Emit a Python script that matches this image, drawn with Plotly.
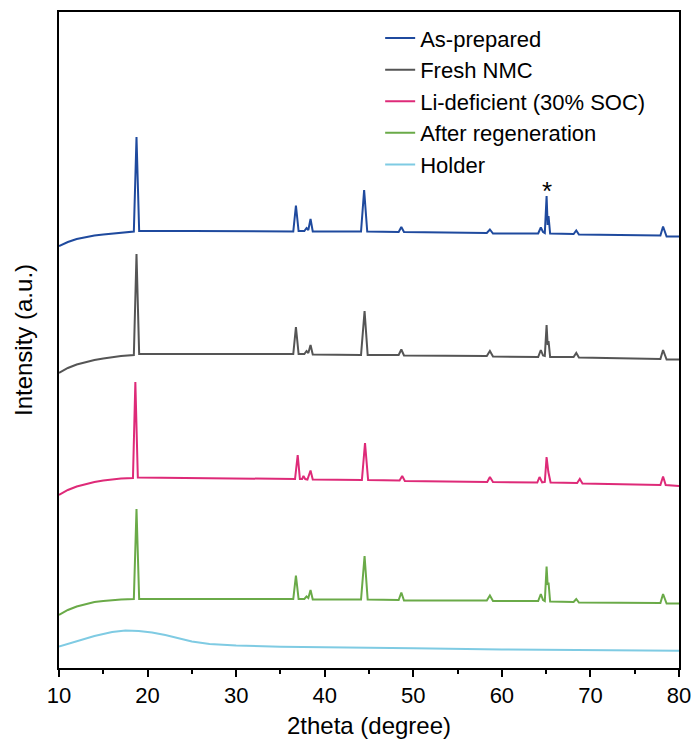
import plotly.graph_objects as go

# 2theta (degree) / stacked intensity (a.u.) points
as_prep_x = [10, 11, 12, 13, 14, 15, 16, 17, 18.45, 18.75, 19.05, 25, 30, 36.45, 36.75, 37.05, 37.7, 37.95, 38.15, 38.4, 38.65,
             44.1, 44.45, 44.8, 48.35, 48.65, 48.95, 58.3, 58.65, 59.0, 64.1, 64.4, 64.65, 64.85, 65.05, 65.17, 65.27, 65.45,
             68.1, 68.4, 68.7, 77.9, 78.2, 78.45, 78.6, 80]
as_prep_y = [422, 426, 429, 431, 432.5, 433.5, 434.5, 435.5, 436.5, 531, 437, 437, 437, 436.5, 462.5, 437, 437, 440, 438, 449, 436.5,
             436.5, 478, 436.5, 436, 441, 436, 435, 438.5, 434.5, 434.5, 440.5, 436, 435, 472, 443, 452, 434.5,
             434, 437.5, 433.5, 432.5, 441.5, 435, 431.5, 431.5]

fresh_x = [10, 11, 12, 13, 14, 15, 16, 17, 18.45, 18.75, 19.05, 30, 36.45, 36.75, 37.05, 37.7, 37.95, 38.15, 38.4, 38.65,
           44.1, 44.5, 44.85, 48.35, 48.65, 48.95, 58.3, 58.65, 59.0, 64.1, 64.4, 64.65, 64.85, 65.05, 65.17, 65.27, 65.45,
           68.1, 68.4, 68.7, 77.9, 78.2, 78.45, 78.6, 80]
fresh_y = [295, 300, 303.5, 306, 308, 309.5, 311, 312, 313, 414, 314, 314, 314, 341, 314, 314, 317, 315, 323, 313.5,
           313, 357, 313, 313, 318.5, 312.5, 312, 317, 311.5, 311, 318, 312.5, 312, 343, 323, 327, 311,
           311, 315, 310.5, 309, 318, 311, 308.5, 308.5]

lidef_x = [10, 11, 12, 13, 14, 15, 16, 17, 18.35, 18.62, 18.9, 30, 36.65, 36.95, 37.2, 37.45, 37.6, 37.8, 38.05, 38.4, 38.65,
           44.2, 44.55, 44.9, 48.45, 48.75, 49.05, 58.35, 58.65, 59.0, 64.0, 64.25, 64.55, 64.85, 65.05, 65.25, 65.5,
           68.5, 68.8, 69.1, 77.9, 78.2, 78.5, 80]
lidef_y = [173, 178, 181.5, 184, 186, 187.5, 188.5, 189.5, 190, 286, 190.5, 190, 189, 213, 189, 189, 192, 189, 188.5, 197.5, 188.5,
           188, 225, 188, 187.5, 192, 187, 186, 191, 186, 185.5, 191, 185.5, 186, 211, 196, 185.5,
           185, 189, 184.5, 183, 191.5, 183, 182]

regen_x = [10, 11, 12, 13, 14, 15, 16, 17, 18.45, 18.75, 19.05, 30, 36.45, 36.75, 37.05, 37.7, 37.95, 38.15, 38.4, 38.65,
           44.1, 44.5, 44.85, 48.35, 48.65, 48.95, 58.3, 58.65, 59.0, 64.1, 64.4, 64.65, 64.85, 65.05, 65.17, 65.27, 65.45,
           68.1, 68.4, 68.7, 77.9, 78.2, 78.45, 78.6, 80]
regen_y = [53, 58, 61.5, 64, 66, 67, 68, 68.5, 69, 159, 69, 69, 69, 92.5, 69, 69, 71.5, 70, 78, 68.5,
           68.5, 112, 68.5, 68, 75.5, 67.5, 67.5, 72.5, 67, 67, 74, 68, 67, 101.5, 83, 85.5, 66.5,
           66, 69, 65.5, 65, 74, 67, 64.5, 64.5]

holder_x = [10, 12, 14, 16, 17.5, 19, 20.5, 22, 23.5, 25, 27, 30, 35, 40, 50, 60, 70, 80]
holder_y = [21.5, 27, 32, 36, 37.5, 37, 35.5, 33, 29.5, 26.5, 24, 22.5, 21.2, 20.5, 19.7, 18.5, 17.7, 17.3]

names = ["As-prepared", "Fresh NMC", "Li-deficient (30% SOC)", "After regeneration", "Holder"]
colors = ["#1f4a9e", "#555555", "#de2a78", "#6aaa48", "#7fcbe3"]
xs = [as_prep_x, fresh_x, lidef_x, regen_x, holder_x]
ys = [as_prep_y, fresh_y, lidef_y, regen_y, holder_y]

font_family = "Arial, Liberation Sans, Helvetica, sans-serif"

fig = go.Figure()
for n, c, x, y in zip(names, colors, xs, ys):
    fig.add_trace(go.Scatter(x=x, y=y, mode="lines", name=n, legendgroup=n,
                             line=dict(color=c, width=2)))

fig.add_annotation(x=65.1, y=460, text="*", showarrow=False, yanchor="bottom",
                   font=dict(size=26, color="black", family=font_family))

fig.update_layout(
    width=695, height=746,
    margin=dict(l=59, r=16, t=12, b=78),
    paper_bgcolor="white", plot_bgcolor="white",
    font=dict(family=font_family, size=22, color="black"),
    showlegend=True,
    legend=dict(x=0.518, y=0.992, xanchor="left", yanchor="top",
                bgcolor="rgba(0,0,0,0)", traceorder="grouped", tracegroupgap=0,
                font=dict(size=22)),
    xaxis=dict(range=[10, 80], dtick=10, tick0=10, showgrid=False, zeroline=False,
               automargin=False,
               showline=True, linecolor="black", linewidth=2, mirror=True,
               ticks="outside", ticklen=7, tickwidth=1.5, tickcolor="black",
               minor=dict(dtick=5, ticks="outside", ticklen=4, tickwidth=1.5, tickcolor="black"),
               tickfont=dict(size=22),
               title=dict(text="2theta (degree)", font=dict(size=24), standoff=10)),
    yaxis=dict(range=[0, 656], showgrid=False, zeroline=False, showticklabels=False,
               automargin=False,
               showline=True, linecolor="black", linewidth=2, mirror=True, ticks="",
               title=dict(text="Intensity (a.u.)", font=dict(size=24), standoff=18)),
)

fig.write_html("out.html")
